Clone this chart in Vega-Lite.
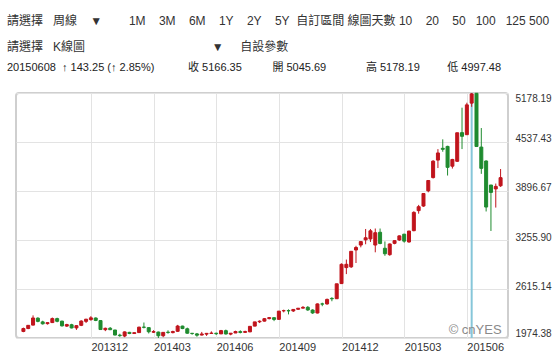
{
  "$schema": "https://vega.github.io/schema/vega-lite/v6.json",
  "width": 492,
  "height": 245,
  "autosize": "none",
  "padding": {"left": 16, "top": 93, "right": 46, "bottom": 22},
  "background": "white",
  "config": {
    "view": {"stroke": "#cfcfcf", "strokeWidth": 2, "cornerRadius": 3},
    "font": "Liberation Sans"
  },
  "title": {
    "text": [
      "請選擇\u00a0\u00a0\u00a0周線\u00a0\u00a0\u00a0\u00a0▼\u00a0\u00a0\u00a0\u00a0\u00a0\u00a0\u00a0\u00a01M\u00a0\u00a0\u00a0\u00a03M\u00a0\u00a0\u00a0\u00a06M\u00a0\u00a0\u00a0\u00a01Y\u00a0\u00a0\u00a0\u00a02Y\u00a0\u00a0\u00a0\u00a05Y\u00a0\u00a0自訂區間\u00a0線圖天數\u00a010\u00a0\u00a0\u00a0\u00a020\u00a0\u00a0\u00a0\u00a050\u00a0\u00a0\u00a0100\u00a0\u00a0\u00a0125\u00a0500",
      "請選擇\u00a0\u00a0\u00a0K線圖\u00a0\u00a0\u00a0\u00a0\u00a0\u00a0\u00a0\u00a0\u00a0\u00a0\u00a0\u00a0\u00a0\u00a0\u00a0\u00a0\u00a0\u00a0\u00a0\u00a0\u00a0\u00a0\u00a0\u00a0\u00a0\u00a0\u00a0\u00a0\u00a0\u00a0\u00a0\u00a0\u00a0\u00a0\u00a0\u00a0\u00a0\u00a0▼\u00a0\u00a0\u00a0\u00a0\u00a0自設參數"
    ],
    "subtitle": "20150608\u00a0\u00a0↑ 143.25 (↑ 2.85%)\u00a0\u00a0\u00a0\u00a0\u00a0\u00a0\u00a0\u00a0\u00a0\u00a0\u00a0收 5166.35\u00a0\u00a0\u00a0\u00a0\u00a0\u00a0\u00a0\u00a0\u00a0\u00a0開 5045.69\u00a0\u00a0\u00a0\u00a0\u00a0\u00a0\u00a0\u00a0\u00a0\u00a0\u00a0\u00a0\u00a0高 5178.19\u00a0\u00a0\u00a0\u00a0\u00a0\u00a0\u00a0\u00a0\u00a0低 4997.48",
    "anchor": "start",
    "frame": "group",
    "dx": -9,
    "offset": 18,
    "font": "Liberation Sans, Noto Sans CJK TC",
    "fontSize": 12,
    "fontWeight": "normal",
    "color": "#333333",
    "lineHeight": 26,
    "subtitleFont": "Liberation Sans, Noto Sans CJK TC",
    "subtitleFontSize": 11,
    "subtitleColor": "#222222",
    "subtitlePadding": 8
  },
  "data": {
    "values": [
      {"d": "2013-08-26", "o": 2060, "h": 2110, "l": 2050, "c": 2098},
      {"d": "2013-09-02", "o": 2098, "h": 2142, "l": 2090, "c": 2140},
      {"d": "2013-09-09", "o": 2143, "h": 2270, "l": 2140, "c": 2236},
      {"d": "2013-09-16", "o": 2234, "h": 2245, "l": 2180, "c": 2192},
      {"d": "2013-09-23", "o": 2185, "h": 2200, "l": 2150, "c": 2160},
      {"d": "2013-09-30", "o": 2162, "h": 2178, "l": 2150, "c": 2175},
      {"d": "2013-10-07", "o": 2176, "h": 2242, "l": 2170, "c": 2228},
      {"d": "2013-10-14", "o": 2228, "h": 2240, "l": 2180, "c": 2193},
      {"d": "2013-10-21", "o": 2195, "h": 2200, "l": 2125, "c": 2133},
      {"d": "2013-10-28", "o": 2130, "h": 2160, "l": 2120, "c": 2150},
      {"d": "2013-11-04", "o": 2148, "h": 2160, "l": 2100, "c": 2106},
      {"d": "2013-11-11", "o": 2106, "h": 2140, "l": 2080, "c": 2136},
      {"d": "2013-11-18", "o": 2140, "h": 2206, "l": 2130, "c": 2196},
      {"d": "2013-11-25", "o": 2192, "h": 2225, "l": 2170, "c": 2220},
      {"d": "2013-12-02", "o": 2215, "h": 2260, "l": 2200, "c": 2238},
      {"d": "2013-12-09", "o": 2236, "h": 2243, "l": 2195, "c": 2204},
      {"d": "2013-12-16", "o": 2202, "h": 2205, "l": 2080, "c": 2085},
      {"d": "2013-12-23", "o": 2083, "h": 2110, "l": 2064, "c": 2101},
      {"d": "2013-12-30", "o": 2102, "h": 2118, "l": 2078, "c": 2083},
      {"d": "2014-01-06", "o": 2079, "h": 2080, "l": 2010, "c": 2013},
      {"d": "2014-01-13", "o": 2012, "h": 2030, "l": 1990, "c": 2005},
      {"d": "2014-01-20", "o": 2000, "h": 2060, "l": 1985, "c": 2054},
      {"d": "2014-01-27", "o": 2048, "h": 2055, "l": 2025, "c": 2033},
      {"d": "2014-02-03", "o": 2033, "h": 2046, "l": 2032, "c": 2044},
      {"d": "2014-02-10", "o": 2045, "h": 2122, "l": 2045, "c": 2116},
      {"d": "2014-02-17", "o": 2117, "h": 2177, "l": 2100, "c": 2114},
      {"d": "2014-02-24", "o": 2110, "h": 2113, "l": 2034, "c": 2056},
      {"d": "2014-03-03", "o": 2050, "h": 2077, "l": 2040, "c": 2058},
      {"d": "2014-03-10", "o": 2052, "h": 2058, "l": 1974.38, "c": 2004},
      {"d": "2014-03-17", "o": 2004, "h": 2052, "l": 1985, "c": 2048},
      {"d": "2014-03-24", "o": 2050, "h": 2075, "l": 2030, "c": 2047},
      {"d": "2014-03-31", "o": 2045, "h": 2070, "l": 2035, "c": 2059},
      {"d": "2014-04-07", "o": 2062, "h": 2146, "l": 2055, "c": 2131},
      {"d": "2014-04-14", "o": 2130, "h": 2135, "l": 2090, "c": 2098},
      {"d": "2014-04-21", "o": 2095, "h": 2110, "l": 2030, "c": 2037},
      {"d": "2014-04-28", "o": 2036, "h": 2040, "l": 2017, "c": 2033},
      {"d": "2014-05-05", "o": 2028, "h": 2040, "l": 1991, "c": 2011},
      {"d": "2014-05-12", "o": 2013, "h": 2054, "l": 2008, "c": 2027},
      {"d": "2014-05-19", "o": 2025, "h": 2040, "l": 2002, "c": 2035},
      {"d": "2014-05-26", "o": 2034, "h": 2061, "l": 2027, "c": 2039},
      {"d": "2014-06-02", "o": 2037, "h": 2043, "l": 2014, "c": 2030},
      {"d": "2014-06-09", "o": 2028, "h": 2080, "l": 2027, "c": 2071},
      {"d": "2014-06-16", "o": 2070, "h": 2084, "l": 2020, "c": 2027},
      {"d": "2014-06-23", "o": 2025, "h": 2040, "l": 2010, "c": 2037},
      {"d": "2014-06-30", "o": 2040, "h": 2070, "l": 2038, "c": 2059},
      {"d": "2014-07-07", "o": 2058, "h": 2075, "l": 2035, "c": 2047},
      {"d": "2014-07-14", "o": 2048, "h": 2070, "l": 2040, "c": 2059},
      {"d": "2014-07-21", "o": 2055, "h": 2130, "l": 2050, "c": 2127},
      {"d": "2014-07-28", "o": 2130, "h": 2185, "l": 2128, "c": 2185},
      {"d": "2014-08-04", "o": 2186, "h": 2205, "l": 2170, "c": 2194},
      {"d": "2014-08-11", "o": 2195, "h": 2235, "l": 2190, "c": 2227},
      {"d": "2014-08-18", "o": 2228, "h": 2249, "l": 2218, "c": 2241},
      {"d": "2014-08-25", "o": 2240, "h": 2245, "l": 2195, "c": 2217},
      {"d": "2014-09-01", "o": 2218, "h": 2327, "l": 2215, "c": 2326},
      {"d": "2014-09-08", "o": 2330, "h": 2345, "l": 2310, "c": 2332},
      {"d": "2014-09-15", "o": 2333, "h": 2349, "l": 2283, "c": 2329},
      {"d": "2014-09-22", "o": 2328, "h": 2352, "l": 2315, "c": 2348},
      {"d": "2014-09-29", "o": 2350, "h": 2365, "l": 2345, "c": 2364},
      {"d": "2014-10-06", "o": 2365, "h": 2392, "l": 2360, "c": 2375},
      {"d": "2014-10-13", "o": 2376, "h": 2391, "l": 2330, "c": 2341},
      {"d": "2014-10-20", "o": 2340, "h": 2350, "l": 2290, "c": 2302},
      {"d": "2014-10-27", "o": 2301, "h": 2426, "l": 2296, "c": 2420},
      {"d": "2014-11-03", "o": 2420, "h": 2436, "l": 2390, "c": 2418},
      {"d": "2014-11-10", "o": 2420, "h": 2490, "l": 2410, "c": 2479},
      {"d": "2014-11-17", "o": 2492, "h": 2508, "l": 2455, "c": 2487},
      {"d": "2014-11-24", "o": 2488, "h": 2683, "l": 2485, "c": 2683},
      {"d": "2014-12-01", "o": 2686, "h": 2950, "l": 2680, "c": 2938},
      {"d": "2014-12-08", "o": 2895, "h": 3000, "l": 2810, "c": 2938},
      {"d": "2014-12-15", "o": 2905, "h": 3110, "l": 2890, "c": 3108},
      {"d": "2014-12-22", "o": 3125, "h": 3180, "l": 2955, "c": 3158},
      {"d": "2014-12-29", "o": 3190, "h": 3240, "l": 3160, "c": 3235},
      {"d": "2015-01-05", "o": 3258, "h": 3400, "l": 3200, "c": 3285},
      {"d": "2015-01-12", "o": 3270, "h": 3400, "l": 3230, "c": 3376},
      {"d": "2015-01-19", "o": 3190, "h": 3406, "l": 3095, "c": 3351},
      {"d": "2015-01-26", "o": 3357, "h": 3406, "l": 3200, "c": 3210},
      {"d": "2015-02-02", "o": 3148, "h": 3237, "l": 3049, "c": 3076},
      {"d": "2015-02-09", "o": 3064, "h": 3210, "l": 3050, "c": 3204},
      {"d": "2015-02-16", "o": 3212, "h": 3250, "l": 3200, "c": 3247},
      {"d": "2015-02-23", "o": 3256, "h": 3315, "l": 3245, "c": 3310},
      {"d": "2015-03-02", "o": 3332, "h": 3336, "l": 3221, "c": 3241},
      {"d": "2015-03-09", "o": 3230, "h": 3375, "l": 3220, "c": 3373},
      {"d": "2015-03-16", "o": 3378, "h": 3632, "l": 3370, "c": 3617},
      {"d": "2015-03-23", "o": 3640, "h": 3715, "l": 3600, "c": 3691},
      {"d": "2015-03-30", "o": 3700, "h": 3866, "l": 3690, "c": 3864},
      {"d": "2015-04-06", "o": 3899, "h": 4040, "l": 3880, "c": 4034},
      {"d": "2015-04-13", "o": 4072, "h": 4300, "l": 4060, "c": 4287},
      {"d": "2015-04-20", "o": 4301, "h": 4444, "l": 4197, "c": 4394},
      {"d": "2015-04-27", "o": 4455, "h": 4572, "l": 4410, "c": 4442},
      {"d": "2015-05-04", "o": 4480, "h": 4488, "l": 4099, "c": 4206},
      {"d": "2015-05-11", "o": 4221, "h": 4317, "l": 4190, "c": 4309},
      {"d": "2015-05-18", "o": 4285, "h": 4658, "l": 4278, "c": 4658},
      {"d": "2015-05-25", "o": 4660, "h": 4986, "l": 4445, "c": 4612},
      {"d": "2015-06-01", "o": 4633, "h": 5051, "l": 4633, "c": 5023},
      {"d": "2015-06-08", "o": 5045.69, "h": 5178.19, "l": 4997.48, "c": 5166.35},
      {"d": "2015-06-15", "o": 5174.42, "h": 5176.79, "l": 4476.5, "c": 4478.36},
      {"d": "2015-06-22", "o": 4471, "h": 4720, "l": 4121, "c": 4193},
      {"d": "2015-06-29", "o": 4289, "h": 4297, "l": 3629, "c": 3687},
      {"d": "2015-07-06", "o": 3975, "h": 3975, "l": 3374, "c": 3878},
      {"d": "2015-07-13", "o": 3924, "h": 3994, "l": 3680, "c": 3957},
      {"d": "2015-07-20", "o": 3965, "h": 4184, "l": 3950, "c": 4071}
    ]
  },
  "encoding": {
    "x": {
      "field": "d",
      "type": "temporal",
      "scale": {"type": "utc", "domain": [1377172800000, 1437652800000]},
      "axis": {
        "title": null,
        "values": [
          {"year": 2013, "month": 12, "date": 2, "utc": true},
          {"year": 2014, "month": 3, "date": 3, "utc": true},
          {"year": 2014, "month": 6, "date": 2, "utc": true},
          {"year": 2014, "month": 9, "date": 1, "utc": true},
          {"year": 2014, "month": 12, "date": 1, "utc": true},
          {"year": 2015, "month": 3, "date": 2, "utc": true},
          {"year": 2015, "month": 6, "date": 1, "utc": true}
        ],
        "labelExpr": "utcFormat(datum.value, '%Y%m')",
        "labelAlign": "left",
        "labelBaseline": "top",
        "labelPadding": 3,
        "labelFontSize": 11,
        "labelColor": "#333333",
        "labelFlush": false,
        "labelOverlap": false,
        "labelBound": false,
        "ticks": false,
        "tickSize": 0,
        "domain": false,
        "gridColor": "#e3e3e3",
        "gridWidth": 1
      }
    }
  },
  "layer": [
    {
      "data": {"values": [{"d": "2015-06-08"}]},
      "mark": {"type": "rule", "color": "#86c6d9", "strokeWidth": 2},
      "encoding": {}
    },
    {
      "mark": {"type": "rule", "strokeWidth": 1},
      "encoding": {
        "y": {
          "field": "l",
          "type": "quantitative",
          "scale": {"domain": [1974.38, 5178.19], "nice": false, "zero": false},
          "axis": {
            "orient": "right",
            "title": null,
            "values": [1974.38, 2294.761, 2615.14, 2935.521, 3255.9, 3576.281, 3896.67, 4217.05, 4537.43, 4857.81, 5178.19],
            "labelExpr": "indexof([1974.38, 2615.14, 3255.9, 3896.67, 4537.43, 5178.19], datum.value) >= 0 ? format(datum.value, '.2f') : ''",
            "labelPadding": 7,
            "labelFontSize": 10,
            "labelColor": "#333333",
            "labelBaseline": {"condition": {"test": "datum.value > 5000", "value": "top"}, "value": "alphabetic"},
            "labelOffset": {"condition": {"test": "datum.value < 2000", "value": -2}, "value": 0},
            "labelFlush": false,
            "labelOverlap": false,
            "labelBound": false,
            "ticks": false,
            "tickSize": 0,
            "domain": false,
            "gridColor": "#e3e3e3",
            "gridWidth": 1
          }
        },
        "y2": {"field": "h"},
        "color": {"condition": {"test": "datum.c >= datum.o", "value": "#c0141c"}, "value": "#1f8b2f"}
      }
    },
    {
      "mark": {"type": "bar", "width": 3, "strokeWidth": 1},
      "encoding": {
        "y": {"field": "o", "type": "quantitative", "title": null},
        "y2": {"field": "c"},
        "color": {"condition": {"test": "datum.c >= datum.o", "value": "#c0141c"}, "value": "#1f8b2f"},
        "stroke": {"condition": {"test": "datum.c >= datum.o", "value": "#c0141c"}, "value": "#1f8b2f"}
      }
    },
    {
      "transform": [{"filter": "time(datum.d) == 1437350400000"}],
      "mark": {"type": "text", "align": "right", "baseline": "bottom", "dy": -1, "dx": 1, "fontSize": 13, "fill": "#8a8a8a", "font": "Liberation Sans"},
      "encoding": {
        "y": {"datum": 1974.38, "type": "quantitative"},
        "text": {"value": "© cnYES"}
      }
    }
  ]
}
